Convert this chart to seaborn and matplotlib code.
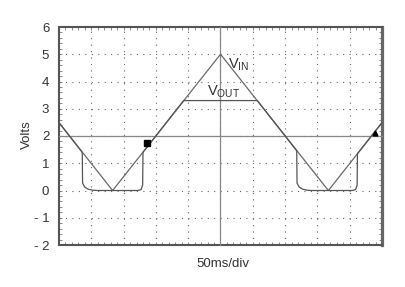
import numpy as np
import pandas as pd
import matplotlib
matplotlib.use("Agg")
import matplotlib.pyplot as plt
import seaborn as sns
from matplotlib.ticker import MultipleLocator

# ---- data ----
vin_t = [0, 83, 250, 417, 500]
vin_v = [2.49, 0.0, 5.0, 0.0, 2.49]

vout_t = [0, 36, 36.5, 40, 45, 52, 60, 122, 127, 129.5, 130, 193, 307,
          368, 368.5, 372, 377, 384, 392, 454, 459, 461.5, 462, 500]
vout_v = [2.49, 1.40, 0.27, 0.12, 0.05, 0.01, 0.0, 0.0, 0.03, 0.2, 1.40, 3.30, 3.30,
          1.46, 0.27, 0.12, 0.05, 0.01, 0.0, 0.0, 0.03, 0.2, 1.35, 2.49]

ytick_vals = [-2, -1, 0, 1, 2, 3, 4, 5, 6]
ytick_labels = ["- 2", "- 1", "0", "1", "2", "3", "4", "5", "6"]

trig_t, trig_v = [136], [1.73]
arrow_t, arrow_v = [489], [2.1]

sns.set_theme(style="white")
plt.rcParams["font.family"] = ["Liberation Sans", "DejaVu Sans"]
plt.rcParams["mathtext.fontset"] = "custom"
plt.rcParams["mathtext.rm"] = "Liberation Sans"
plt.rcParams["mathtext.it"] = "Liberation Sans"

TXT = "#333333"
fig = plt.figure(figsize=(4.06, 2.87), dpi=100)
pos = [59 / 406, 1 - 245 / 287, 323 / 406, 218 / 287]
ax = fig.add_axes(pos)
ax.set_xlim(0, 500)
ax.set_ylim(-2, 6)

# dotted grid
for t in np.arange(50, 500, 50):
    ax.axvline(t, color="#666666", lw=0.8, ls=(0, (1.0, 4.8)), zorder=1)
for v in np.arange(-1, 6, 1):
    ax.axhline(v, color="#666666", lw=0.8, ls=(0, (1.0, 4.8)), zorder=1)

ax.set_yticks(ytick_vals)
ax.set_yticklabels(ytick_labels, fontsize=9.5, color=TXT)
ax.set_xticks(np.arange(0, 501, 50))
ax.set_xticklabels([])
ax.xaxis.set_minor_locator(MultipleLocator(10))
ax.yaxis.set_minor_locator(MultipleLocator(0.2))
ax.tick_params(which="both", direction="in", top=True, right=True, bottom=True, left=True,
               length=2.5, width=0.6, color="#777777", pad=7)
for s in ax.spines.values():
    s.set_color("#555555")
    s.set_linewidth(1.5)
ax.spines["right"].set_linewidth(2.3)
ax.spines["right"].set_color("#666666")
ax.set_ylabel("Volts", fontsize=9.5, color=TXT)
ax.set_xlabel("50ms/div", fontsize=9.5, color=TXT)
ax.yaxis.set_label_coords(-0.08, 0.505)
ax.xaxis.set_label_coords(0.506, -0.06)

# center crosshair axes
ax2 = fig.add_axes(pos, sharex=ax, sharey=ax)
ax2.patch.set_visible(False)
ax2.spines["top"].set_visible(False)
ax2.spines["right"].set_visible(False)
ax2.spines["left"].set_position(("data", 250))
ax2.spines["bottom"].set_position(("data", 2))
ax2.spines["left"].set_color("#888888")
ax2.spines["bottom"].set_color("#888888")
ax2.spines["left"].set_linewidth(0.9)
ax2.spines["bottom"].set_linewidth(0.9)
ax2.tick_params(which="both", direction="inout", length=4, width=0.6, color="#888888",
                labelleft=False, labelbottom=False, top=False, right=False)

vin_df = pd.DataFrame({"t": vin_t, "v": vin_v})
vout_df = pd.DataFrame({"t": vout_t, "v": vout_v})
sns.lineplot(data=vin_df, x="t", y="v", ax=ax2, sort=False, estimator=None,
             color="#6a6a6a", lw=0.9, zorder=4)
sns.lineplot(data=vout_df, x="t", y="v", ax=ax2, sort=False, estimator=None,
             color="#555555", lw=0.9, zorder=4)
ax2.plot(trig_t, trig_v, marker="s", ms=5, color="black", ls="none", zorder=5)
ax2.plot(arrow_t, arrow_v, marker="^", ms=3.5, color="black", ls="none", zorder=5)
ax2.set_xlabel("")
ax2.set_ylabel("")
ax2.set_xlim(0, 500)
ax2.set_ylim(-2, 6)

ax2.text(261, 4.46, r"V$_{\mathrm{IN}}$", fontsize=10.5, color=TXT)
ax2.text(229, 3.50, r"V$_{\mathrm{OUT}}$", fontsize=10.5, color=TXT)

fig.savefig("out.png", dpi=100)
